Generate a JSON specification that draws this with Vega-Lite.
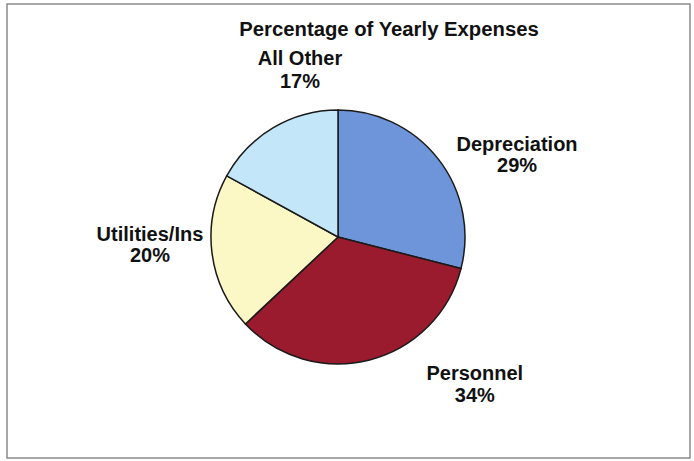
{
  "$schema": "https://vega.github.io/schema/vega-lite/v6.json",
  "autosize": {"type": "none"},
  "padding": {"left": 7, "top": 4, "right": 4, "bottom": 3},
  "width": 683,
  "height": 454,
  "background": "white",
  "view": {"stroke": "#8a8a8a", "strokeWidth": 1.5, "fill": "white"},
  "title": {
    "text": "Percentage of Yearly Expenses",
    "font": "Liberation Sans",
    "fontSize": 20.3,
    "fontWeight": "bold",
    "color": "#111111",
    "anchor": "middle",
    "baseline": "alphabetic",
    "dx": 40.5,
    "dy": 21,
    "offset": -31
  },
  "data": {
    "values": [
      {"category": "Depreciation", "pct": 29, "i": 1},
      {"category": "Personnel", "pct": 34, "i": 2},
      {"category": "Utilities/Ins", "pct": 20, "i": 3},
      {"category": "All Other", "pct": 17, "i": 4}
    ]
  },
  "transform": [
    {"calculate": "datum.category + '\\n' + datum.pct + '%'", "as": "label"}
  ],
  "encoding": {
    "theta": {"field": "pct", "type": "quantitative", "stack": true},
    "order": {"field": "i", "type": "quantitative"}
  },
  "layer": [
    {
      "mark": {
        "type": "arc",
        "outerRadius": 127,
        "stroke": "#1a1a1a",
        "strokeWidth": 1.5,
        "x": {"expr": "width/2 - 10.5"},
        "y": {"expr": "height/2 + 6"}
      },
      "encoding": {
        "color": {
          "field": "category",
          "type": "nominal",
          "scale": {
            "domain": ["Depreciation", "Personnel", "Utilities/Ins", "All Other"],
            "range": ["#6e94da", "#9a1a2e", "#fcf8c6", "#c4e6f9"]
          },
          "legend": null
        }
      }
    },
    {
      "mark": {"type": "text", "radius": 160, "dx": 52.6, "dy": 5.6, "font": "Liberation Sans", "fontSize": 20, "fontWeight": "bold", "lineHeight": 21.5, "baseline": "middle", "align": "center", "fill": "#111111", "lineBreak": "\n",
        "x": {"expr": "width/2 - 10.5"}, "y": {"expr": "height/2 + 6"}},
      "encoding": {"text": {"condition": {"test": "datum.category == 'Depreciation'", "field": "label"}, "value": ""}}
    },
    {
      "mark": {"type": "text", "radius": 160, "dx": 97, "dy": -17.5, "font": "Liberation Sans", "fontSize": 20, "fontWeight": "bold", "lineHeight": 21.5, "baseline": "middle", "align": "center", "fill": "#111111", "lineBreak": "\n",
        "x": {"expr": "width/2 - 10.5"}, "y": {"expr": "height/2 + 6"}},
      "encoding": {"text": {"condition": {"test": "datum.category == 'Personnel'", "field": "label"}, "value": ""}}
    },
    {
      "mark": {"type": "text", "radius": 160, "dx": -29.3, "dy": -22.5, "font": "Liberation Sans", "fontSize": 20, "fontWeight": "bold", "lineHeight": 21.5, "baseline": "middle", "align": "center", "fill": "#111111", "lineBreak": "\n",
        "x": {"expr": "width/2 - 10.5"}, "y": {"expr": "height/2 + 6"}},
      "encoding": {"text": {"condition": {"test": "datum.category == 'Utilities/Ins'", "field": "label"}, "value": ""}}
    },
    {
      "mark": {"type": "text", "radius": 160, "dx": 43.4, "dy": -39.8, "font": "Liberation Sans", "fontSize": 20, "fontWeight": "bold", "lineHeight": 22.5, "baseline": "middle", "align": "center", "fill": "#111111", "lineBreak": "\n",
        "x": {"expr": "width/2 - 10.5"}, "y": {"expr": "height/2 + 6"}},
      "encoding": {"text": {"condition": {"test": "datum.category == 'All Other'", "field": "label"}, "value": ""}}
    }
  ]
}
